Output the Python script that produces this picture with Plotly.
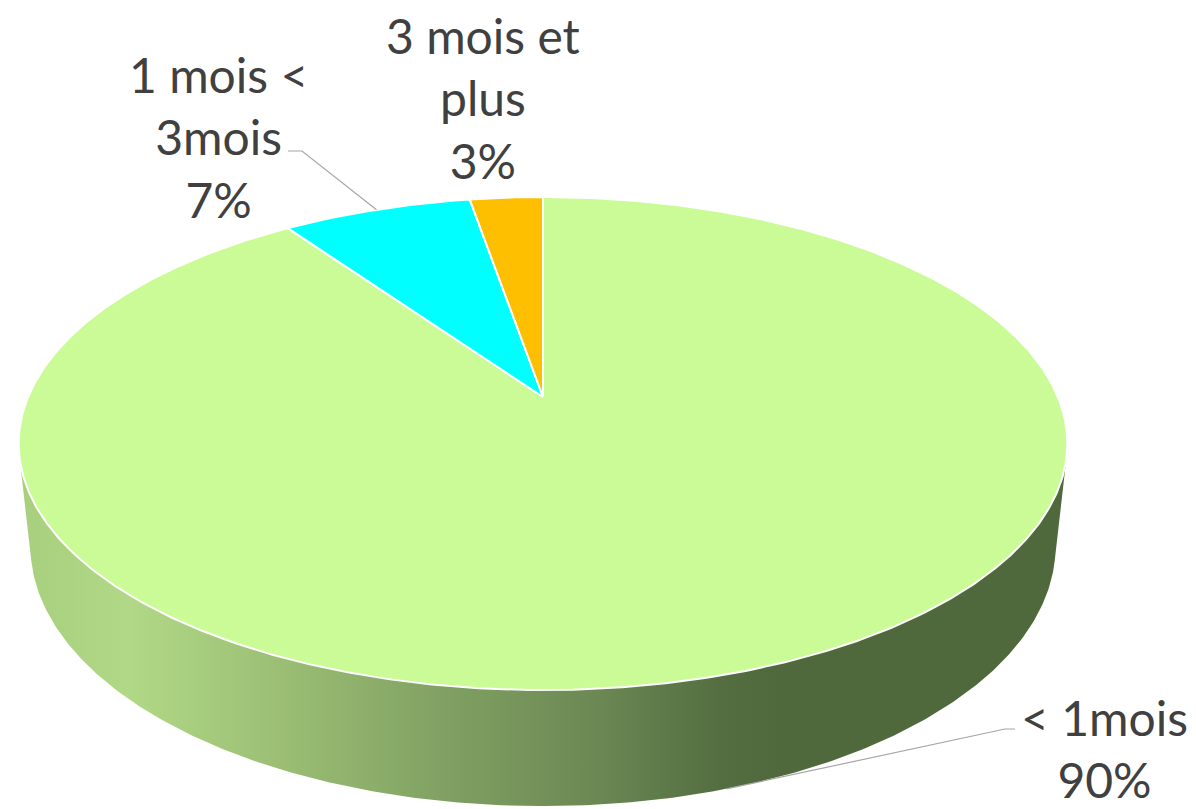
import numpy as np
import plotly.graph_objects as go

# ---------------- data ----------------
categories = ["< 1mois", "1 mois < 3mois", "3 mois et plus"]
values = [90.3, 7.0, 2.7]
label_lines = [["&lt; 1mois"], ["1 mois &lt;", "3mois"], ["3 mois et", "plus"]]
colors = ["#CBFB97", "#00FFFF", "#FDBF00"]

# ---------------- 3D projection setup (layout) ----------------
W, HGT = 1196, 809
CX, CY = 543.0, 397.0
ALPHA = np.radians(27.5)
SA, CA = np.sin(ALPHA), np.cos(ALPHA)
DIST = 4.701
FOC = 2420.6
DEPTH = 0.226


def proj(theta_deg, w=0.0):
    t = np.radians(np.asarray(theta_deg, dtype=float))
    u, v = np.sin(t), np.cos(t)
    Y = v * SA + w * CA
    Z = DIST + v * CA - w * SA
    return CX + FOC * u / Z, CY - FOC * Y / Z


total = sum(values)
angles = np.cumsum([0] + [v / total * 360 for v in values])

fig = go.Figure()

# ---- side wall (front part visible) ----
sil = np.degrees(np.arccos(-1.0 / (DIST * CA)))
th = np.linspace(sil, 360 - sil, 300)
xt, yt = proj(th, 0.0)
xb, yb = proj(th[::-1], -DEPTH)
xs = np.concatenate([xt, xb, xt[:1]])
ys = np.concatenate([yt, yb, yt[:1]])
x0, x1 = float(xs.min()), float(xs.max())
stops = [(18, "#a8cf7e"), (130, "#b1d886"), (300, "#98bb72"), (450, "#7fa062"),
         (600, "#6b8753"), (720, "#546e41"), (780, "#4f683c"), (1068, "#4f693d")]
cs = [[min(max((p - x0) / (x1 - x0), 0), 1), c] for p, c in stops]
cs[0][0] = 0.0
cs[-1][0] = 1.0
fig.add_trace(go.Scatter(
    x=xs, y=ys, mode="lines", fill="toself",
    line=dict(width=0, color="rgba(0,0,0,0)"),
    fillgradient=dict(type="horizontal", colorscale=cs, start=x0, stop=x1),
    hoverinfo="skip", showlegend=False))

# ---- top face slices ----
for i, (cat, col) in enumerate(zip(categories, colors)):
    a0, a1 = angles[i], angles[i + 1]
    n = max(int((a1 - a0) * 2), 8)
    th = np.linspace(a0, a1, n)
    ax, ay = proj(th, 0.0)
    px = np.concatenate([[CX], ax, [CX]])
    py = np.concatenate([[CY], ay, [CY]])
    fig.add_trace(go.Scatter(
        x=px, y=py, mode="lines", fill="toself", fillcolor=col,
        line=dict(color="white", width=2), name=cat,
        hoverinfo="skip", showlegend=False))

# ---- labels ----
pct = [f"{round(v / total * 100)}%" for v in values]
label_pos = [(1104, 748), (218, 137), (483, 98)]
for lines, p, (lx, ly) in zip(label_lines, pct, label_pos):
    fig.add_annotation(x=lx, y=ly, xref="x", yref="y", showarrow=False,
                       text="<br>".join(lines + [p]), align="center",
                       xanchor="center", yanchor="middle",
                       font=dict(family="Lato", size=48, color="#404040"))

# ---- leader lines ----
gx, gy = proj((angles[0] + angles[1]) / 2, -DEPTH)
cxp, cyp = proj((angles[1] + angles[2]) / 2, 0.0)
leaders = [
    [(1015, 729), (1005, 729), (float(gx), float(gy))],
    [(288, 151), (302, 151), (float(cxp), float(cyp))],
]
for pts in leaders:
    fig.add_trace(go.Scatter(x=[p[0] for p in pts], y=[p[1] for p in pts],
                             mode="lines", line=dict(color="#A6A6A6", width=1.2),
                             hoverinfo="skip", showlegend=False))

fig.update_layout(
    width=W, height=HGT, margin=dict(l=0, r=0, t=0, b=0),
    paper_bgcolor="white", plot_bgcolor="white", showlegend=False,
    xaxis=dict(range=[0, W], visible=False, fixedrange=True),
    yaxis=dict(range=[HGT, 0], visible=False, fixedrange=True),
    hovermode=False,
)
fig.write_html("out.html",
               config={"displayModeBar": False, "staticPlot": True},
               post_script="document.body.style.margin='0px';"
                           "document.body.style.overflow='hidden';")
